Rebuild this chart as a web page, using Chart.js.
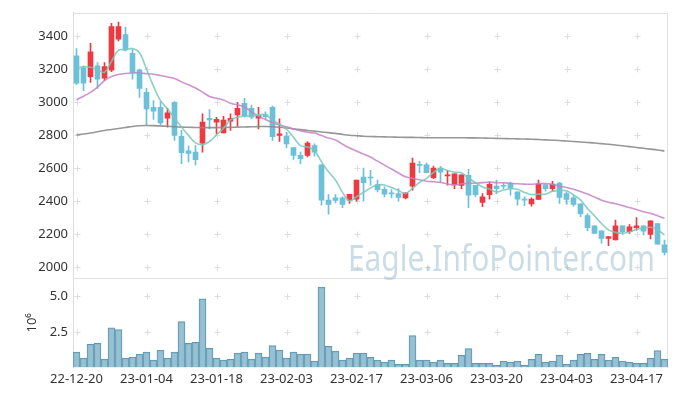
<!DOCTYPE html>
<html lang="en">
<head>
<meta charset="UTF-8" />
<title>Price and Volume</title>
<script src="https://cdn.jsdelivr.net/npm/chart.js@4"></script>
<style>
  html, body { margin: 0; padding: 0; background: #fff; }
  #wrap { width: 677px; height: 396px; }
</style>
</head>
<body>
<div id="wrap"><canvas id="priceChart" width="677" height="396"></canvas></div>
<script>
  const dates = [
    '22-12-20','22-12-21','22-12-22','22-12-23','22-12-26','22-12-27','22-12-28','22-12-29','23-01-02','23-01-03',
    '23-01-04','23-01-05','23-01-06','23-01-09','23-01-10','23-01-11','23-01-12','23-01-13','23-01-16','23-01-17',
    '23-01-18','23-01-19','23-01-20','23-01-25','23-01-26','23-01-27','23-01-30','23-01-31','23-02-01','23-02-02',
    '23-02-03','23-02-06','23-02-07','23-02-08','23-02-09','23-02-10','23-02-13','23-02-14','23-02-15','23-02-16',
    '23-02-17','23-02-20','23-02-21','23-02-22','23-02-23','23-02-24','23-02-27','23-02-28','23-03-02','23-03-03',
    '23-03-06','23-03-07','23-03-08','23-03-09','23-03-10','23-03-13','23-03-14','23-03-15','23-03-16','23-03-17',
    '23-03-20','23-03-21','23-03-22','23-03-23','23-03-24','23-03-27','23-03-28','23-03-29','23-03-30','23-03-31',
    '23-04-03','23-04-04','23-04-05','23-04-06','23-04-07','23-04-10','23-04-11','23-04-12','23-04-13','23-04-14',
    '23-04-17','23-04-18','23-04-19','23-04-20','23-04-21'
  ];

  const opens = [
    3280,3207,3153,3219,3145,3193,3380,3408,3295,3195,
    3058,2968,2968,2902,2998,2793,2705,2697,2751,2902,
    2878,2813,2884,2922,2992,2962,2902,2924,2968,2798,
    2793,2725,2677,2677,2737,2620,2406,2420,2420,2406,
    2412,2545,2546,2500,2472,2450,2446,2420,2490,2623,
    2620,2542,2600,2552,2502,2496,2557,2496,2392,2440,
    2492,2496,2506,2456,2412,2384,2410,2500,2476,2510,
    2446,2420,2384,2312,2251,2221,2175,2165,2251,2215,
    2239,2251,2199,2265,2135
  ];
  const highs = [
    3323,3219,3355,3239,3239,3476,3484,3454,3319,3199,
    3083,3008,3002,2962,3002,2828,2733,2737,2928,2954,
    2908,2914,2928,2998,3022,2982,2968,2940,2975,2898,
    2817,2725,2697,2761,2747,2620,2440,2440,2426,2442,
    2527,2600,2587,2527,2486,2470,2476,2450,2661,2641,
    2630,2613,2611,2587,2566,2560,2593,2496,2446,2516,
    2527,2512,2516,2456,2426,2420,2527,2500,2520,2516,
    2456,2436,2384,2325,2251,2221,2185,2285,2251,2259,
    2300,2251,2281,2265,2165
  ];
  const lows = [
    3105,3069,3119,3083,3130,3183,3370,3310,3139,3028,
    2858,2894,2858,2848,2767,2627,2637,2620,2697,2837,
    2807,2813,2828,2854,2908,2900,2837,2900,2767,2761,
    2723,2653,2627,2667,2673,2376,2322,2390,2360,2386,
    2400,2400,2497,2456,2426,2420,2400,2414,2466,2572,
    2572,2536,2512,2497,2476,2476,2360,2426,2366,2412,
    2446,2476,2436,2376,2372,2370,2410,2460,2460,2386,
    2382,2370,2306,2221,2205,2145,2130,2165,2199,2205,
    2225,2195,2171,2139,2075
  ];
  const closes = [
    3114,3114,3304,3139,3215,3456,3456,3316,3179,3083,
    2958,2944,2874,2934,2798,2693,2689,2651,2878,2892,
    2896,2890,2902,2962,2918,2908,2918,2912,2790,2807,
    2747,2677,2657,2751,2697,2406,2380,2404,2380,2442,
    2527,2512,2540,2470,2442,2444,2422,2450,2631,2617,
    2572,2600,2576,2560,2566,2560,2436,2440,2426,2502,
    2476,2490,2480,2412,2406,2412,2504,2476,2504,2422,
    2410,2380,2324,2239,2205,2175,2185,2251,2215,2245,
    2251,2219,2281,2139,2090
  ];

  // moving averages
  const ma5 = [
    3203,3213,3210,3195,3180,3246,3314,3316,3324,3298,
    3198,3096,3008,2959,2902,2849,2798,2753,2742,2761,
    2801,2841,2892,2908,2914,2916,2922,2924,2889,2867,
    2835,2787,2736,2728,2706,2638,2578,2528,2453,2402,
    2427,2453,2480,2498,2498,2482,2464,2446,2478,2513,
    2538,2574,2599,2585,2575,2572,2540,2512,2486,2473,
    2456,2467,2475,2472,2453,2440,2443,2442,2460,2464,
    2463,2438,2408,2355,2312,2265,2226,2211,2206,2214,
    2229,2236,2242,2227,2196
  ];
  const ma20 = [
    3014,3035,3058,3090,3130,3155,3167,3173,3176,3176,
    3172,3168,3160,3152,3142,3122,3104,3085,3060,3034,
    3023,3012,2992,2983,2968,2941,2914,2894,2875,2861,
    2850,2837,2826,2817,2812,2797,2782,2770,2745,2722,
    2704,2685,2667,2642,2618,2595,2570,2547,2539,2530,
    2521,2517,2513,2504,2497,2505,2508,2509,2512,2515,
    2512,2511,2508,2505,2503,2502,2506,2507,2501,2491,
    2483,2472,2459,2443,2425,2406,2393,2384,2373,2361,
    2349,2336,2326,2312,2296
  ];
  const ma60 = [
    2801,2806,2812,2820,2828,2834,2840,2846,2852,2856,
    2858,2857,2855,2853,2850,2848,2847,2846,2845,2845,
    2845,2846,2847,2848,2849,2850,2851,2852,2850,2847,
    2843,2838,2833,2828,2824,2819,2815,2810,2804,2799,
    2796,2793,2791,2790,2789,2788,2787,2786,2786,2785,
    2784,2784,2784,2784,2784,2784,2783,2783,2782,2781,
    2780,2779,2778,2777,2776,2775,2773,2771,2769,2767,
    2764,2761,2758,2755,2752,2748,2744,2740,2735,2730,
    2725,2720,2715,2710,2704
  ];

  // volume in millions of shares (axis unit 10^6)
  const volumes = [
    1.08,0.66,1.63,1.70,0.59,2.79,2.67,0.66,0.73,0.94,
    1.08,0.52,1.22,0.66,1.08,3.23,1.70,1.77,4.83,1.35,
    0.66,0.52,0.57,1.01,1.08,0.59,1.01,0.73,1.54,1.22,
    0.66,1.08,0.94,0.94,0.45,5.66,1.49,1.15,0.52,0.66,
    1.01,1.01,0.71,0.52,0.38,0.52,0.22,0.22,2.24,0.52,
    0.52,0.38,0.52,0.29,0.29,0.85,1.33,0.29,0.29,0.29,
    0.15,0.45,0.38,0.45,0.15,0.57,0.92,0.38,0.45,0.85,
    0.22,0.52,0.92,0.99,0.57,0.92,0.52,0.71,0.45,0.36,
    0.29,0.29,0.64,1.19,0.57
  ];

  const priceTicks = [2000, 2200, 2400, 2600, 2800, 3000, 3200, 3400];
  const volumeTicks = [2.5, 5.0];

  const UP = '#ec3a40';
  const DOWN = '#6cc0d8';
  const candleColors = closes.map((c, i) => c >= opens[i] ? UP : DOWN);

  Chart.defaults.font.family = '"Noto Sans", sans-serif';
  Chart.defaults.font.size = 13;
  Chart.defaults.color = '#333';

  // grid crosses, pane frames and watermark
  const backdrop = {
    id: 'backdrop',
    beforeDatasetsDraw(chart) {
      const { ctx, chartArea, scales: { x, y, yv } } = chart;
      ctx.save();

      ctx.strokeStyle = '#e2e2e2';
      ctx.lineWidth = 1;
      ctx.beginPath();
      ctx.moveTo(chartArea.left, Math.round(y.top) + 0.5);
      ctx.lineTo(chartArea.right, Math.round(y.top) + 0.5);
      ctx.moveTo(chartArea.left, Math.round(y.bottom) + 0.5);
      ctx.lineTo(chartArea.right, Math.round(y.bottom) + 0.5);
      ctx.moveTo(Math.round(chartArea.right) - 0.5, y.top);
      ctx.lineTo(Math.round(chartArea.right) - 0.5, yv.bottom);
      ctx.stroke();

      ctx.strokeStyle = '#dddddd';
      [y, yv].forEach(s => {
        s.ticks.forEach(t => {
          const py = Math.round(s.getPixelForValue(t.value)) + 0.5;
          dates.forEach((d, i) => {
            if (i % 10) return;
            const px = Math.round(x.getPixelForValue(i)) + 0.5;
            ctx.beginPath();
            ctx.moveTo(px - 3, py); ctx.lineTo(px + 3, py);
            ctx.moveTo(px, py - 3); ctx.lineTo(px, py + 3);
            ctx.stroke();
          });
        });
      });

      ctx.fillStyle = 'rgba(150, 188, 208, 0.5)';
      ctx.font = '36px "Noto Sans", sans-serif';
      ctx.textBaseline = 'alphabetic';
      ctx.fillText('Eagle.InfoPointer.com', 348, 271, 307);
      ctx.restore();
    }
  };

  const ctx = document.getElementById('priceChart').getContext('2d');
  new Chart(ctx, {
    type: 'bar',
    data: {
      labels: dates,
      datasets: [
        {
          type: 'line', label: 'MA5', data: ma5, yAxisID: 'y',
          borderColor: 'rgba(120, 200, 185, 0.85)', borderWidth: 1.6,
          pointRadius: 0, tension: 0.35, order: 0
        },
        {
          type: 'line', label: 'MA20', data: ma20, yAxisID: 'y',
          borderColor: 'rgba(196, 130, 196, 0.85)', borderWidth: 1.6,
          pointRadius: 0, tension: 0.35, order: 0
        },
        {
          type: 'line', label: 'MA60', data: ma60, yAxisID: 'y',
          borderColor: 'rgba(140, 140, 140, 0.9)', borderWidth: 1.6,
          pointRadius: 0, tension: 0.35, order: 0
        },
        {
          label: 'Body', yAxisID: 'y',
          data: opens.map((o, i) => [o, closes[i]]),
          backgroundColor: candleColors,
          barThickness: 5, grouped: false, order: 1
        },
        {
          label: 'Wick', yAxisID: 'y',
          data: lows.map((l, i) => [l, highs[i]]),
          backgroundColor: candleColors,
          barThickness: 1, grouped: false, order: 2
        },
        {
          label: 'Volume', yAxisID: 'yv',
          data: volumes,
          backgroundColor: 'rgba(140, 186, 205, 0.9)',
          borderColor: '#5f97b2',
          borderWidth: { top: 1, left: 1, right: 1, bottom: 0 },
          barPercentage: 1, categoryPercentage: 1, grouped: false, order: 3
        }
      ]
    },
    options: {
      responsive: false,
      animation: false,
      layout: { padding: { top: 10, right: 9, bottom: 0, left: 0 } },
      plugins: {
        legend: { display: false },
        tooltip: { enabled: false }
      },
      scales: {
        x: {
          grid: { display: false, drawTicks: false },
          border: { display: false },
          ticks: {
            autoSkip: false, maxRotation: 0, padding: 4,
            callback: (v, i) => i % 10 === 0 ? dates[i] : ''
          },
          afterFit: s => { s.height = 28.5; }
        },
        y: {
          position: 'left', stack: 'panes', stackWeight: 2.97, weight: 2,
          min: 1934, max: 3540,
          grid: { display: false, drawTicks: false },
          border: { display: true, color: '#dcdcdc' },
          ticks: { padding: 5, callback: v => String(v) },
          afterBuildTicks: s => { s.ticks = priceTicks.map(v => ({ value: v })); },
          afterFit: s => { s.width = 73; }
        },
        yv: {
          position: 'left', stack: 'panes', stackWeight: 1, weight: 1,
          min: 0, max: 6.29,
          grid: { display: false, drawTicks: false },
          border: { display: true, color: '#dcdcdc' },
          title: { display: true, text: '10⁶', padding: { top: 24, bottom: 0 } },
          ticks: { padding: 5, callback: v => v.toFixed(1) },
          afterBuildTicks: s => { s.ticks = volumeTicks.map(v => ({ value: v })); },
          afterFit: s => { s.width = 73; }
        }
      }
    },
    plugins: [backdrop]
  });
</script>
</body>
</html>
